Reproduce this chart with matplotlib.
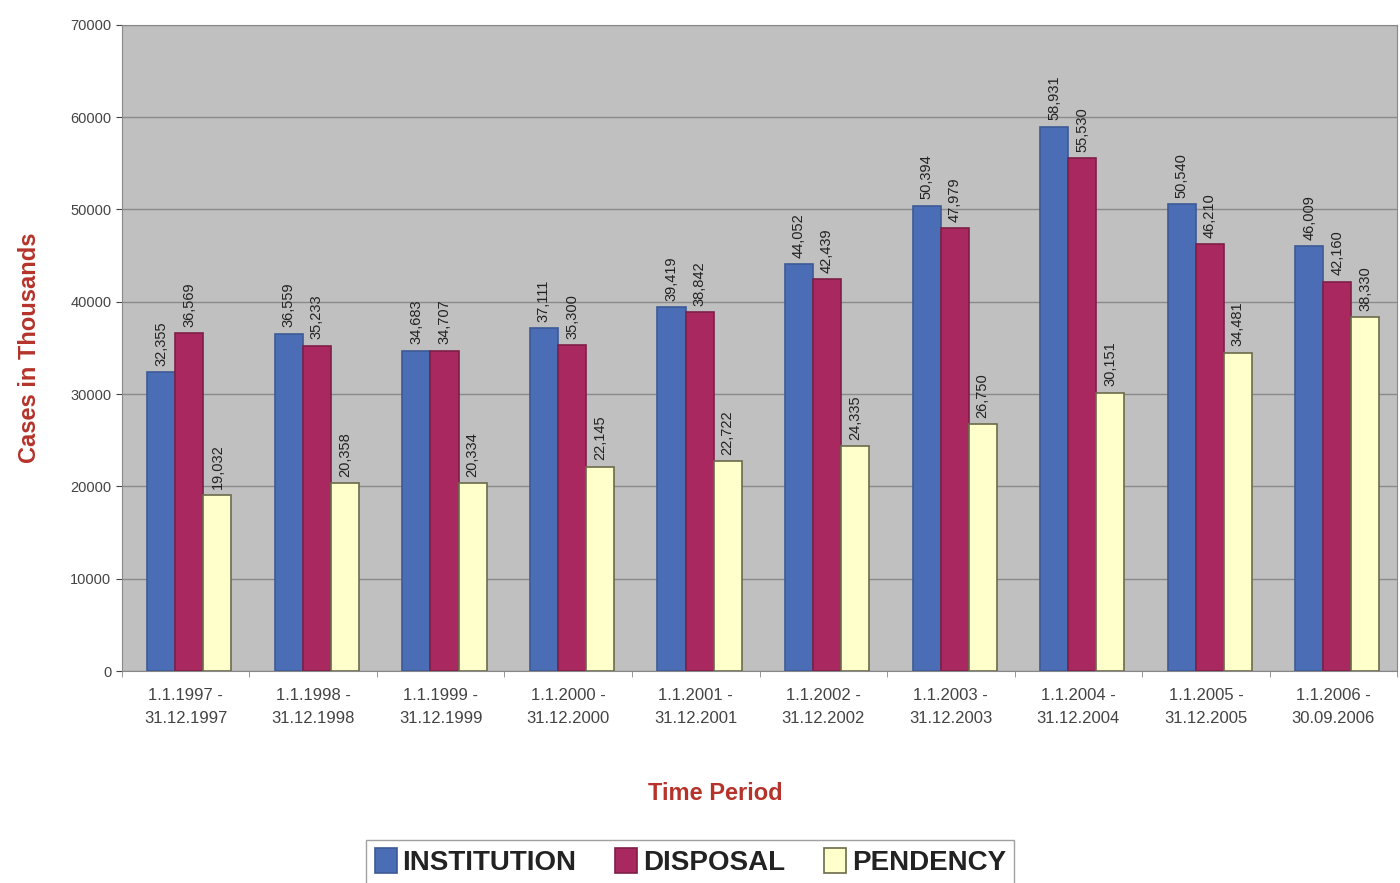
import numpy as np
import matplotlib.pyplot as plt

periods = ["1.1.1997 -\n31.12.1997", "1.1.1998 -\n31.12.1998", "1.1.1999 -\n31.12.1999",
           "1.1.2000 -\n31.12.2000", "1.1.2001 -\n31.12.2001", "1.1.2002 -\n31.12.2002",
           "1.1.2003 -\n31.12.2003", "1.1.2004 -\n31.12.2004", "1.1.2005 -\n31.12.2005",
           "1.1.2006 -\n30.09.2006"]
institution = [32355, 36559, 34683, 37111, 39419, 44052, 50394, 58931, 50540, 46009]
disposal = [36569, 35233, 34707, 35300, 38842, 42439, 47979, 55530, 46210, 42160]
pendency = [19032, 20358, 20334, 22145, 22722, 24335, 26750, 30151, 34481, 38330]

plt.rcParams['font.family'] = ['Liberation Sans', 'DejaVu Sans']

fig = plt.figure(figsize=(14, 8.83), dpi=100)
ax = fig.add_axes([0.087, 0.240, 0.911, 0.732])
ax.set_facecolor("#c0c0c0")

x = np.arange(len(periods))
w = 0.22
series = [
    (institution, "INSTITUTION", "#4a6db5", "#3d5a96"),
    (disposal, "DISPOSAL", "#a8285f", "#7e1f48"),
    (pendency, "PENDENCY", "#ffffcc", "#6b6b4a"),
]
for k, (vals, name, fc, ec) in enumerate(series):
    pos = x + (k - 1) * w + 0.03
    ax.bar(pos, vals, w, color=fc, edgecolor=ec, linewidth=1.2, label=name, zorder=3)
    for p, v in zip(pos, vals):
        ax.text(p, v + 700, f"{v:,}", rotation=90, ha="center", va="bottom",
                fontsize=10.5, color="#222222", zorder=4)

ax.set_xlim(-0.5, len(periods) - 0.5)
ax.set_ylim(0, 70000)
ax.set_yticks(np.arange(0, 70001, 10000))
ax.yaxis.grid(True, color="#8a8a8a", linewidth=1.0, zorder=0)
ax.set_axisbelow(True)
ax.tick_params(axis="y", labelsize=10.5, colors="#444444", length=4)
ax.set_xticks(x)
ax.set_xticklabels(periods, fontsize=12, color="#444444", linespacing=1.7)
ax.tick_params(axis="x", length=0, pad=12)
ax.set_xticks(np.arange(-0.5, len(periods), 1), minor=True)
ax.tick_params(axis="x", which="minor", length=4, color="#888888")
for s in ax.spines.values():
    s.set_color("#888888")

ax.set_ylabel("Cases in Thousands", fontsize=17, fontweight="bold", color="#b5332a")
ax.yaxis.set_label_coords(-0.063, 0.5)
ax.set_xlabel("Time Period", fontsize=17, fontweight="bold", color="#b5332a")
ax.xaxis.set_label_coords(0.465, -0.172)

leg = fig.legend(loc="center", bbox_to_anchor=(0.493, 0.024), ncol=3, frameon=True,
                 fancybox=False, edgecolor="#888888", handlelength=0.8, handleheight=1.0,
                 handletextpad=0.2, columnspacing=1.4, borderpad=0.3,
                 prop={"weight": "bold", "size": 20})
for t in leg.get_texts():
    t.set_color("#222222")

fig.savefig("out.png", dpi=100)
